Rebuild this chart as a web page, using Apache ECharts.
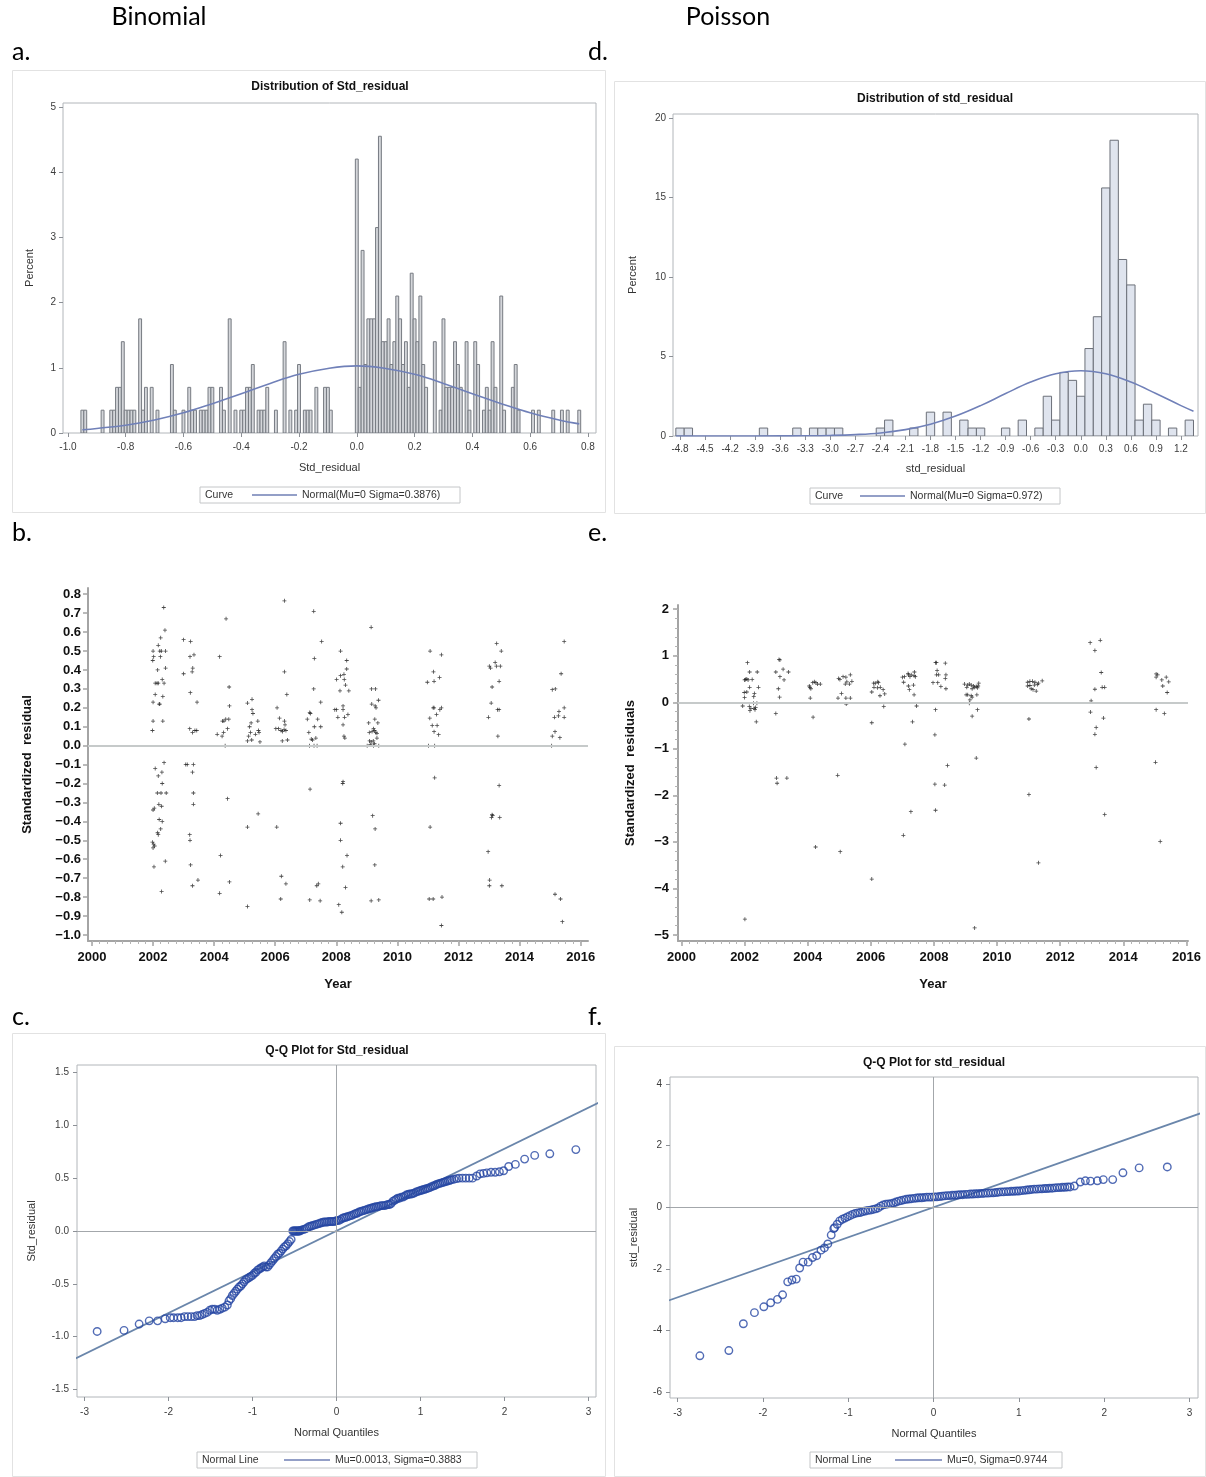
<!DOCTYPE html>
<html>
<head>
<meta charset="utf-8">
<title>Residual diagnostics: Binomial vs Poisson</title>
<script src="https://cdn.jsdelivr.net/npm/echarts@6/dist/echarts.min.js"></script>
<style>
html, body { margin: 0; padding: 0; background: #fff; }
#chart { width: 1206px; height: 1477px; }
</style>
</head>
<body>
<div id="chart"></div>
<script>
// ---------- data ----------

// a. Binomial histogram: bin centre (width 0.01) and percent
const binomBins = [-0.95, -0.94, -0.88, -0.85, -0.84, -0.83, -0.82, -0.81, -0.80, -0.79, -0.78, -0.77, -0.75, -0.74, -0.73, -0.71, -0.69,
  -0.64, -0.63, -0.60, -0.58, -0.57, -0.56, -0.54, -0.53, -0.52, -0.51, -0.50, -0.47, -0.46, -0.44, -0.42, -0.40, -0.39, -0.38, -0.37, -0.36,
  -0.34, -0.33, -0.32, -0.31, -0.28, -0.25, -0.23, -0.21, -0.20, -0.18, -0.17, -0.16, -0.14, -0.11, -0.10, -0.09,
  0.00, 0.01, 0.02, 0.03, 0.04, 0.05, 0.06, 0.07, 0.08, 0.09, 0.10, 0.11, 0.12, 0.13, 0.14, 0.15, 0.16, 0.17, 0.18, 0.19, 0.20,
  0.21, 0.22, 0.23, 0.24, 0.27, 0.29, 0.30, 0.31, 0.32, 0.33, 0.34, 0.35, 0.36, 0.38, 0.39, 0.41, 0.42, 0.44, 0.45, 0.46, 0.47, 0.48,
  0.50, 0.51, 0.54, 0.55, 0.56, 0.61, 0.63, 0.68, 0.71, 0.73, 0.77];
const binomPct = [0.35, 0.35, 0.35, 0.35, 0.35, 0.7, 0.7, 1.4, 0.35, 0.35, 0.35, 0.35, 1.75, 0.35, 0.7, 0.7, 0.35,
  1.05, 0.35, 0.35, 0.7, 0.35, 0.35, 0.35, 0.35, 0.35, 0.7, 0.7, 0.7, 0.35, 1.75, 0.35, 0.35, 0.35, 0.7, 0.7, 1.05,
  0.35, 0.35, 0.35, 0.7, 0.35, 1.4, 0.35, 0.35, 1.05, 0.35, 0.35, 0.35, 0.7, 0.7, 0.7, 0.35,
  4.2, 0.7, 2.8, 1.05, 1.75, 1.75, 1.75, 3.15, 4.55, 1.4, 1.4, 1.75, 1.05, 1.4, 2.1, 1.75, 1.05, 1.4, 0.7, 2.45, 1.75,
  1.4, 2.1, 1.05, 0.7, 1.4, 0.35, 1.75, 0.7, 0.7, 0.7, 1.4, 1.05, 0.7, 1.4, 0.35, 1.4, 1.05, 0.35, 0.7, 0.35, 1.4, 0.7,
  2.1, 0.35, 0.7, 1.05, 0.35, 0.35, 0.35, 0.35, 0.35, 0.35, 0.35];
// fitted normal curve (Mu=0 Sigma=0.3876)
const binomCurveX = [-0.95, -0.9, -0.8, -0.7, -0.6, -0.5, -0.4, -0.3, -0.2, -0.1, 0.0, 0.1, 0.2, 0.3, 0.4, 0.5, 0.6, 0.7, 0.77];
const binomCurveY = [0.05, 0.07, 0.12, 0.20, 0.31, 0.45, 0.60, 0.76, 0.90, 0.99, 1.03, 0.99, 0.90, 0.76, 0.60, 0.45, 0.31, 0.20, 0.14];

// d. Poisson histogram: bin centre (width 0.1) and percent
const poisBins = [-4.8, -4.7, -3.8, -3.4, -3.2, -3.1, -3.0, -2.9, -2.4, -2.3, -2.0, -1.8, -1.6, -1.4, -1.3, -1.2, -0.9, -0.7, -0.5,
  -0.4, -0.3, -0.2, -0.1, 0.0, 0.1, 0.2, 0.3, 0.4, 0.5, 0.6, 0.7, 0.8, 0.9, 1.1, 1.3];
const poisPct = [0.5, 0.5, 0.5, 0.5, 0.5, 0.5, 0.5, 0.5, 0.5, 1.0, 0.5, 1.5, 1.5, 1.0, 0.5, 0.5, 0.5, 1.0, 0.5,
  2.5, 1.0, 4.0, 3.5, 2.5, 5.5, 7.5, 15.6, 18.6, 11.1, 9.5, 1.0, 2.0, 1.0, 0.5, 1.0];
const poisCurveX = [-4.85, -4.2, -3.6, -3.3, -3.0, -2.7, -2.4, -2.1, -1.8, -1.5, -1.2, -0.9, -0.6, -0.3, 0.0, 0.3, 0.6, 0.9, 1.2, 1.35];
const poisCurveY = [0.0, 0.001, 0.005, 0.013, 0.035, 0.087, 0.19, 0.40, 0.74, 1.25, 1.91, 2.67, 3.39, 3.91, 4.10, 3.91, 3.39, 2.67, 1.91, 1.56];

// b. Binomial standardized residual by year [year, residual]
const binomResid = [
  [2002.35, 0.73], [2002.39, 0.61], [2002.25, 0.57], [2002.17, 0.53], [2002.00, 0.50], [2002.02, 0.47], [2001.99, 0.45], [2002.22, 0.50],
  [2002.27, 0.50], [2002.41, 0.50], [2002.24, 0.47], [2002.15, 0.40], [2002.41, 0.41], [2002.30, 0.35], [2002.07, 0.33], [2002.13, 0.33],
  [2002.17, 0.33], [2002.36, 0.33], [2002.07, 0.27], [2002.32, 0.26], [2002.00, 0.23], [2002.20, 0.22], [2002.22, 0.22], [2002.00, 0.13],
  [2002.32, 0.13], [2001.98, 0.08], [2002.36, -0.09], [2002.07, -0.12], [2002.29, -0.14], [2002.17, -0.16], [2002.30, -0.20], [2002.14, -0.25],
  [2002.26, -0.25], [2002.43, -0.25], [2002.00, -0.34], [2002.04, -0.33], [2002.19, -0.31], [2002.28, -0.32], [2002.20, -0.39], [2002.30, -0.40],
  [2002.25, -0.44], [2002.15, -0.46], [2002.17, -0.47], [2001.98, -0.51], [2002.02, -0.52], [2002.05, -0.53], [2002.00, -0.54], [2002.03, -0.64],
  [2002.40, -0.61], [2002.28, -0.77],
  [2003.00, 0.56], [2003.23, 0.55], [2003.21, 0.47], [2003.34, 0.48], [2003.30, 0.41], [2003.28, 0.39], [2003.00, 0.38], [2003.22, 0.28],
  [2003.44, 0.23], [2003.20, 0.09], [2003.29, 0.07], [2003.37, 0.08], [2003.43, 0.08], [2003.07, -0.10], [2003.12, -0.10], [2003.32, -0.10],
  [2003.29, -0.14], [2003.32, -0.25], [2003.32, -0.31], [2003.20, -0.47], [2003.21, -0.50], [2003.23, -0.63], [2003.29, -0.74], [2003.47, -0.71],
  [2004.18, 0.47], [2004.39, 0.67], [2004.49, 0.31], [2004.50, 0.21], [2004.27, 0.13], [2004.32, 0.13], [2004.38, 0.14], [2004.48, 0.14],
  [2004.44, 0.09], [2004.10, 0.06], [2004.26, 0.05], [2004.31, 0.07], [2004.36, 0.00], [2004.44, -0.28], [2004.21, -0.58], [2004.50, -0.72],
  [2004.18, -0.78],
  [2005.09, 0.225], [2005.24, 0.245], [2005.24, 0.19], [2005.27, 0.17], [2005.21, 0.12], [2005.43, 0.13], [2005.16, 0.10], [2005.19, 0.07],
  [2005.13, 0.05], [2005.35, 0.06], [2005.45, 0.08], [2005.47, 0.07], [2005.09, 0.025], [2005.23, 0.03], [2005.50, 0.02], [2005.44, -0.36],
  [2005.09, -0.43], [2005.09, -0.85],
  [2006.30, 0.765], [2006.30, 0.39], [2006.38, 0.27], [2006.06, 0.20], [2006.14, 0.145], [2006.30, 0.13], [2006.32, 0.11], [2006.11, 0.09],
  [2006.19, 0.08], [2006.24, 0.075], [2006.29, 0.085], [2006.35, 0.08], [2006.02, 0.09], [2006.23, 0.025], [2006.40, 0.03], [2006.05, -0.43],
  [2006.20, -0.69], [2006.35, -0.73], [2006.18, -0.81],
  [2007.26, 0.71], [2007.28, 0.46], [2007.52, 0.55], [2007.26, 0.30], [2007.49, 0.23], [2007.13, 0.175], [2007.15, 0.17], [2007.05, 0.14],
  [2007.28, 0.10], [2007.39, 0.14], [2007.49, 0.10], [2007.10, 0.07], [2007.18, 0.035], [2007.22, 0.03], [2007.33, 0.04], [2007.12, 0.0],
  [2007.27, 0.0], [2007.37, 0.0], [2007.14, -0.23], [2007.36, -0.74], [2007.41, -0.73], [2007.13, -0.815], [2007.47, -0.82],
  [2008.14, 0.50], [2008.34, 0.45], [2008.34, 0.405], [2008.14, 0.37], [2008.25, 0.377], [2008.01, 0.35], [2008.26, 0.35], [2008.30, 0.32],
  [2008.12, 0.29], [2008.41, 0.29], [2007.95, 0.19], [2008.01, 0.19], [2008.22, 0.21], [2008.22, 0.19], [2008.38, 0.165], [2008.05, 0.15],
  [2008.27, 0.15], [2008.22, 0.11], [2008.25, 0.05], [2008.28, 0.04], [2008.22, -0.19], [2008.21, -0.20], [2008.14, -0.41], [2008.14, -0.50],
  [2008.35, -0.58], [2008.21, -0.64], [2008.30, -0.75], [2008.08, -0.84], [2008.18, -0.88],
  [2009.14, 0.625], [2009.15, 0.30], [2009.28, 0.30], [2009.38, 0.24], [2009.16, 0.22], [2009.27, 0.21], [2009.30, 0.20], [2009.26, 0.14],
  [2009.06, 0.12], [2009.36, 0.12], [2009.22, 0.09], [2009.08, 0.07], [2009.17, 0.075], [2009.25, 0.08], [2009.29, 0.07], [2009.33, 0.065],
  [2009.33, 0.04], [2009.09, 0.025], [2009.14, 0.02], [2009.21, 0.025], [2009.25, 0.01], [2009.11, 0.005], [2009.01, 0.0], [2009.22, 0.0],
  [2009.39, 0.0], [2009.19, -0.37], [2009.27, -0.44], [2009.26, -0.63], [2009.14, -0.82], [2009.39, -0.815],
  [2011.07, 0.50], [2011.44, 0.48], [2011.18, 0.39], [2011.38, 0.36], [2010.98, 0.335], [2011.20, 0.34], [2011.17, 0.20], [2011.20, 0.20],
  [2011.39, 0.19], [2011.44, 0.20], [2011.28, 0.165], [2011.06, 0.145], [2011.14, 0.107], [2011.30, 0.107], [2011.20, 0.074], [2011.35, 0.058],
  [2011.02, 0.0], [2011.22, 0.0], [2011.22, -0.17], [2011.07, -0.43], [2011.04, -0.81], [2011.17, -0.81], [2011.46, -0.80], [2011.44, -0.95],
  [2013.25, 0.54], [2013.40, 0.50], [2013.20, 0.44], [2013.01, 0.42], [2013.05, 0.41], [2013.24, 0.42], [2013.37, 0.42], [2013.33, 0.34],
  [2013.10, 0.31], [2013.07, 0.225], [2013.28, 0.19], [2013.33, 0.19], [2012.98, 0.15], [2013.29, 0.05], [2013.33, -0.21], [2013.10, -0.365],
  [2013.12, -0.37], [2013.08, -0.38], [2013.35, -0.38], [2012.97, -0.56], [2013.02, -0.71], [2013.01, -0.74], [2013.42, -0.74],
  [2015.46, 0.55], [2015.36, 0.38], [2015.07, 0.296], [2015.17, 0.30], [2015.46, 0.20], [2015.29, 0.18], [2015.14, 0.15], [2015.27, 0.157],
  [2015.46, 0.15], [2015.16, 0.074], [2015.07, 0.05], [2015.32, 0.042], [2015.05, 0.0], [2015.16, -0.785], [2015.34, -0.81], [2015.40, -0.93]
];

// e. Poisson standardized residuals by year [year, residual]
const poisResid = [
  [2002.09, 0.85], [2002.00, 0.48], [2002.03, 0.49], [2002.07, 0.50], [2002.11, 0.48], [2002.24, 0.49], [2002.16, 0.65], [2002.40, 0.65],
  [2002.16, 0.32], [2002.44, 0.32], [2001.99, 0.21], [2002.07, 0.22], [2002.31, 0.19], [2002.00, 0.10], [2002.29, 0.12], [2001.94, -0.08],
  [2002.15, -0.09], [2002.20, -0.13], [2002.30, -0.13], [2002.35, -0.11], [2002.17, -0.18], [2002.33, -0.16], [2002.28, -0.02], [2002.39, -0.02],
  [2002.37, -0.42], [2002.01, -4.66],
  [2003.09, 0.92], [2003.12, 0.91], [2003.22, 0.71], [2002.99, 0.65], [2003.39, 0.65], [2003.12, 0.55], [2003.25, 0.48], [2003.07, 0.29],
  [2003.11, 0.11], [2002.99, -0.24], [2003.01, -1.63], [2003.34, -1.63], [2003.03, -1.74],
  [2004.05, 0.35], [2004.07, 0.32], [2004.10, 0.29], [2004.16, 0.42], [2004.21, 0.44], [2004.26, 0.42], [2004.31, 0.39], [2004.40, 0.39],
  [2004.08, 0.09], [2004.17, -0.32], [2004.25, -3.11],
  [2004.98, 0.51], [2005.02, 0.49], [2005.12, 0.55], [2005.21, 0.54], [2005.35, 0.59], [2005.24, 0.44], [2005.40, 0.45], [2005.19, 0.39],
  [2005.32, 0.39], [2005.07, 0.19], [2004.96, 0.09], [2005.21, 0.09], [2005.35, 0.09], [2005.22, -0.04], [2004.95, -1.57], [2005.03, -3.21],
  [2006.09, 0.41], [2006.14, 0.41], [2006.22, 0.44], [2006.24, 0.42], [2006.10, 0.32], [2006.21, 0.31], [2006.30, 0.32], [2006.39, 0.27],
  [2006.03, 0.22], [2006.44, 0.18], [2006.29, 0.14], [2006.41, -0.09], [2006.03, -0.44], [2006.03, -3.80],
  [2007.00, 0.54], [2007.07, 0.55], [2007.19, 0.59], [2007.24, 0.55], [2007.28, 0.59], [2007.37, 0.57], [2007.41, 0.55], [2007.18, 0.62],
  [2007.38, 0.65], [2007.04, 0.43], [2007.19, 0.35], [2007.22, 0.27], [2007.35, 0.37], [2007.37, 0.16], [2007.45, -0.08], [2007.32, -0.42],
  [2007.08, -0.90], [2007.27, -2.35], [2007.03, -2.86],
  [2008.05, 0.85], [2008.08, 0.85], [2008.36, 0.84], [2008.10, 0.68], [2008.08, 0.59], [2008.15, 0.59], [2008.38, 0.59], [2007.97, 0.42],
  [2008.12, 0.42], [2008.22, 0.34], [2008.36, 0.51], [2008.38, 0.29], [2008.05, -0.16], [2008.03, -0.70], [2008.43, -1.36], [2008.03, -1.76],
  [2008.34, -1.78], [2008.05, -2.32],
  [2008.97, 0.39], [2009.07, 0.37], [2009.12, 0.39], [2009.18, 0.37], [2009.25, 0.35], [2009.34, 0.34], [2009.40, 0.35], [2009.42, 0.41],
  [2009.04, 0.32], [2009.21, 0.29], [2009.29, 0.32], [2009.38, 0.31], [2009.07, 0.16], [2009.18, 0.14], [2009.21, 0.11], [2009.02, 0.16],
  [2009.14, 0.05], [2009.12, -0.02], [2009.36, 0.16], [2009.38, -0.16], [2009.21, -0.30], [2009.34, -1.20], [2009.29, -4.85],
  [2010.97, 0.43], [2011.04, 0.45], [2011.12, 0.45], [2011.20, 0.43], [2011.31, 0.41], [2011.43, 0.46], [2010.97, 0.35], [2011.04, 0.36],
  [2011.18, 0.37], [2011.28, 0.38], [2011.08, 0.29], [2011.14, 0.27], [2011.24, 0.24], [2011.01, -0.36], [2011.01, -1.98], [2011.31, -3.45],
  [2012.95, 1.28], [2013.27, 1.33], [2013.10, 1.11], [2013.30, 0.64], [2013.10, 0.28], [2013.33, 0.32], [2013.41, 0.32], [2012.98, 0.03],
  [2012.96, -0.21], [2013.37, -0.34], [2013.14, -0.54], [2013.10, -0.69], [2013.14, -1.40], [2013.41, -2.41],
  [2015.04, 0.61], [2015.09, 0.59], [2015.04, 0.54], [2015.22, 0.48], [2015.36, 0.54], [2015.44, 0.44], [2015.25, 0.35], [2015.39, 0.21],
  [2015.04, -0.16], [2015.30, -0.24], [2015.02, -1.29], [2015.17, -2.99]
];

// c. Binomial Q-Q: [normal quantile, Std_residual]
const binomQQ = [
  [-2.85, -0.95], [-2.53, -0.94], [-2.35, -0.88], [-2.23, -0.85], [-2.13, -0.85], [-2.04, -0.83],
  [-1.98, -0.82], [-1.94, -0.82], [-1.89, -0.82], [-1.85, -0.82], [-1.81, -0.81], [-1.77, -0.81], [-1.73, -0.81], [-1.69, -0.81],
  [-1.66, -0.80], [-1.63, -0.80], [-1.60, -0.79], [-1.57, -0.78], [-1.54, -0.77], [-1.51, -0.75], [-1.48, -0.74], [-1.45, -0.74],
  [-1.42, -0.75], [-1.39, -0.74], [-1.36, -0.73], [-1.33, -0.72], [-1.30, -0.70], [-1.28, -0.66], [-1.26, -0.64], [-1.24, -0.61],
  [-1.22, -0.59], [-1.20, -0.57], [-1.18, -0.55], [-1.16, -0.53], [-1.14, -0.52], [-1.12, -0.50], [-1.10, -0.48], [-1.08, -0.46],
  [-1.06, -0.45], [-1.04, -0.44], [-1.02, -0.43], [-1.00, -0.42], [-0.98, -0.40], [-0.96, -0.39], [-0.94, -0.37], [-0.92, -0.36],
  [-0.90, -0.35], [-0.88, -0.34], [-0.86, -0.33], [-0.84, -0.34], [-0.82, -0.34], [-0.80, -0.32], [-0.78, -0.30], [-0.76, -0.28],
  [-0.74, -0.26], [-0.72, -0.24], [-0.70, -0.22], [-0.68, -0.21], [-0.66, -0.19], [-0.64, -0.17], [-0.62, -0.15], [-0.60, -0.14],
  [-0.58, -0.12], [-0.56, -0.10], [-0.54, -0.08],
  [-0.52, 0.0], [-0.51, 0.0], [-0.50, 0.0], [-0.49, 0.0], [-0.48, 0.0], [-0.47, 0.0], [-0.46, 0.0], [-0.45, 0.0], [-0.44, 0.0],
  [-0.43, 0.005], [-0.41, 0.01], [-0.39, 0.015], [-0.37, 0.02], [-0.35, 0.03], [-0.33, 0.04], [-0.31, 0.045], [-0.29, 0.05],
  [-0.27, 0.055], [-0.25, 0.06], [-0.23, 0.065], [-0.21, 0.07], [-0.19, 0.075], [-0.17, 0.08], [-0.15, 0.085], [-0.13, 0.085],
  [-0.11, 0.085], [-0.09, 0.09], [-0.07, 0.09], [-0.05, 0.09], [-0.03, 0.09], [-0.01, 0.095], [0.01, 0.10], [0.03, 0.10],
  [0.05, 0.11], [0.07, 0.12], [0.09, 0.125], [0.11, 0.13], [0.13, 0.135], [0.15, 0.14], [0.17, 0.145], [0.19, 0.15],
  [0.21, 0.16], [0.23, 0.165], [0.25, 0.17], [0.27, 0.18], [0.29, 0.185], [0.31, 0.19], [0.33, 0.195], [0.35, 0.20],
  [0.37, 0.205], [0.39, 0.21], [0.41, 0.215], [0.43, 0.22], [0.45, 0.225], [0.47, 0.23], [0.49, 0.23], [0.51, 0.235],
  [0.53, 0.24], [0.55, 0.24], [0.57, 0.24], [0.59, 0.245], [0.61, 0.25], [0.63, 0.25], [0.65, 0.26], [0.67, 0.28],
  [0.69, 0.29], [0.71, 0.30], [0.73, 0.31], [0.75, 0.31], [0.77, 0.32], [0.79, 0.32], [0.81, 0.33], [0.83, 0.34],
  [0.85, 0.345], [0.87, 0.35], [0.89, 0.35], [0.91, 0.355], [0.93, 0.36], [0.95, 0.37], [0.97, 0.375], [0.99, 0.38],
  [1.01, 0.385], [1.03, 0.39], [1.05, 0.395], [1.07, 0.40], [1.09, 0.405], [1.11, 0.41], [1.13, 0.42], [1.15, 0.425],
  [1.17, 0.43], [1.19, 0.44], [1.21, 0.445], [1.23, 0.45], [1.25, 0.455], [1.27, 0.46], [1.29, 0.465], [1.31, 0.47],
  [1.33, 0.475], [1.35, 0.48], [1.37, 0.485], [1.40, 0.49], [1.43, 0.495], [1.46, 0.50], [1.50, 0.50], [1.54, 0.50],
  [1.58, 0.50], [1.62, 0.50], [1.67, 0.52], [1.71, 0.54], [1.75, 0.545], [1.79, 0.55], [1.84, 0.555], [1.89, 0.555],
  [1.94, 0.56], [1.99, 0.57], [2.05, 0.61], [2.13, 0.63], [2.24, 0.68], [2.36, 0.715], [2.54, 0.73], [2.85, 0.77]
];
// normal reference line (Mu=0.0013, Sigma=0.3883), end points read at the frame edges
const binomLine = [[-3.2, -1.241], [3.2, 1.244]];

// f. Poisson Q-Q: [normal quantile, std_residual]
const poisQQ = [
  [-2.74, -4.82], [-2.40, -4.65], [-2.23, -3.78], [-2.10, -3.42], [-1.99, -3.23], [-1.91, -3.10], [-1.83, -2.99], [-1.77, -2.84],
  [-1.71, -2.42], [-1.66, -2.36], [-1.61, -2.33], [-1.57, -1.97], [-1.53, -1.78], [-1.47, -1.78], [-1.42, -1.63], [-1.37, -1.57],
  [-1.32, -1.39], [-1.28, -1.32], [-1.24, -1.19], [-1.20, -0.90], [-1.17, -0.69], [-1.16, -0.66], [-1.13, -0.55], [-1.10, -0.44],
  [-1.07, -0.39], [-1.04, -0.35], [-1.01, -0.31], [-0.98, -0.27], [-0.95, -0.23], [-0.92, -0.20], [-0.89, -0.18], [-0.86, -0.17],
  [-0.83, -0.14], [-0.80, -0.12], [-0.77, -0.10], [-0.74, -0.09], [-0.71, -0.07], [-0.68, -0.05], [-0.65, -0.02], [-0.62, 0.04],
  [-0.59, 0.08], [-0.56, 0.10], [-0.53, 0.11], [-0.50, 0.12], [-0.47, 0.14], [-0.44, 0.17], [-0.41, 0.20], [-0.38, 0.22],
  [-0.35, 0.24], [-0.32, 0.26], [-0.29, 0.27], [-0.26, 0.28], [-0.23, 0.29], [-0.20, 0.30], [-0.17, 0.31], [-0.14, 0.31],
  [-0.11, 0.32], [-0.08, 0.33], [-0.05, 0.33], [-0.02, 0.33], [0.01, 0.34], [0.04, 0.34], [0.07, 0.35], [0.10, 0.36],
  [0.13, 0.37], [0.16, 0.38], [0.19, 0.38], [0.22, 0.39], [0.25, 0.39], [0.28, 0.40], [0.31, 0.41], [0.34, 0.41],
  [0.37, 0.42], [0.40, 0.42], [0.43, 0.43], [0.46, 0.43], [0.49, 0.44], [0.52, 0.44], [0.55, 0.45], [0.58, 0.45],
  [0.61, 0.46], [0.64, 0.46], [0.67, 0.47], [0.70, 0.47], [0.73, 0.48], [0.76, 0.49], [0.79, 0.50], [0.82, 0.50],
  [0.85, 0.51], [0.88, 0.51], [0.91, 0.52], [0.94, 0.52], [0.97, 0.53], [1.00, 0.53], [1.03, 0.54], [1.06, 0.55],
  [1.09, 0.56], [1.12, 0.57], [1.15, 0.58], [1.18, 0.59], [1.21, 0.59], [1.24, 0.60], [1.27, 0.60], [1.30, 0.61],
  [1.33, 0.61], [1.36, 0.62], [1.39, 0.62], [1.42, 0.63], [1.45, 0.64], [1.48, 0.64], [1.51, 0.65], [1.54, 0.65],
  [1.57, 0.66], [1.60, 0.66], [1.65, 0.69], [1.72, 0.82], [1.78, 0.86], [1.84, 0.85], [1.92, 0.86], [1.99, 0.90],
  [2.10, 0.90], [2.22, 1.12], [2.41, 1.28], [2.74, 1.31]
];
// normal reference line (Mu=0, Sigma=0.9744)
const poisLine = [[-3.2, -3.118], [3.2, 3.118]];

// tick values
const binomHistTicksX = [-1.0, -0.8, -0.6, -0.4, -0.2, 0.0, 0.2, 0.4, 0.6, 0.8];
const binomHistTicksY = [0, 1, 2, 3, 4, 5];
const poisHistTicksX = [-4.8, -4.5, -4.2, -3.9, -3.6, -3.3, -3.0, -2.7, -2.4, -2.1, -1.8, -1.5, -1.2, -0.9, -0.6, -0.3, 0.0, 0.3, 0.6, 0.9, 1.2];
const poisHistTicksY = [0, 5, 10, 15, 20];
const yearTicks = [2000, 2002, 2004, 2006, 2008, 2010, 2012, 2014, 2016];
const binomResidTicks = [-1.0, -0.9, -0.8, -0.7, -0.6, -0.5, -0.4, -0.3, -0.2, -0.1, 0.0, 0.1, 0.2, 0.3, 0.4, 0.5, 0.6, 0.7, 0.8];
const poisResidTicks = [-5, -4, -3, -2, -1, 0, 1, 2];
const qqTicksX = [-3, -2, -1, 0, 1, 2, 3];
const binomQQTicksY = [-1.5, -1.0, -0.5, 0.0, 0.5, 1.0, 1.5];
const poisQQTicksY = [-6, -4, -2, 0, 2, 4];

// ---------- styling helpers ----------
const SANS = '"Liberation Sans", Arial, sans-serif';
const zip = (a, b) => a.map((v, i) => [v, b[i]]);
const quarterTicks = [];
for (let y = 2000; y <= 2016; y += 0.25) quarterTicks.push(y);
const fifthTicks = [];
for (let v = -5; v <= 2.001; v += 0.2) fifthTicks.push(Math.round(v * 10) / 10);

function sasAxis(grid, min, max, ticks, fmt, name, gap, rotate, margin) {
  return {
    type: 'value', gridIndex: grid, min: min, max: max,
    name: name, nameLocation: 'middle', nameGap: gap, nameRotate: rotate,
    nameTextStyle: { color: '#333', fontSize: 11, fontFamily: SANS },
    axisLine: { show: false, onZero: false },
    axisTick: { show: true, length: 4, customValues: ticks, lineStyle: { color: '#8c9096' } },
    axisLabel: { customValues: ticks, formatter: fmt, color: '#3c3c3c', fontSize: 10, fontFamily: SANS, margin: margin },
    splitLine: { show: false }
  };
}
function boldAxis(grid, min, max, ticks, fmt, name, gap, rotate, margin) {
  return {
    type: 'value', gridIndex: grid, min: min, max: max,
    name: name, nameLocation: 'middle', nameGap: gap, nameRotate: rotate,
    nameTextStyle: { color: '#111', fontSize: 13, fontWeight: 'bold', fontFamily: SANS },
    axisLine: { show: true, onZero: false, lineStyle: { color: '#a4a4a4', width: 2 } },
    axisTick: { show: true, length: 5, customValues: ticks, lineStyle: { color: '#a4a4a4', width: 1.5 } },
    axisLabel: { customValues: ticks, formatter: fmt, color: '#111', fontSize: 13, fontWeight: 'bold', fontFamily: SANS, margin: margin },
    splitLine: { show: false }
  };
}
function minorAxis(grid, min, max, ticks, position) {
  return {
    type: 'value', gridIndex: grid, min: min, max: max, position: position,
    axisLine: { show: false, onZero: false },
    axisTick: { show: true, length: 3, customValues: ticks, lineStyle: { color: '#b4b4b4' } },
    axisLabel: { show: false }, splitLine: { show: false }
  };
}
const f1 = v => v.toFixed(1);
const f0 = v => String(v);
const minus1 = v => (v < 0 ? '\u2212' + Math.abs(v).toFixed(1) : v.toFixed(1));
const minus0 = v => (v < 0 ? '\u2212' + Math.abs(v) : String(v));

function histItem(width, fill, stroke) {
  return function (params, api) {
    const x = api.value(0), h = api.value(1);
    const lo = api.coord([x - width / 2, 0]);
    const hi = api.coord([x + width / 2, h]);
    return {
      type: 'rect',
      shape: { x: lo[0], y: hi[1], width: hi[0] - lo[0], height: lo[1] - hi[1] },
      style: { fill: fill, stroke: stroke, lineWidth: 1 }
    };
  };
}

const crossSymbol = 'path://M2,0 H3 V2 H5 V3 H3 V5 H2 V3 H0 V2 H2 Z';
const qqItem = { color: 'rgba(0,0,0,0)', borderColor: '#2546a3', borderWidth: 1.4 };

function text(x, y, str, font, fill, align) {
  return { type: 'text', x: x, y: y, silent: true,
    style: { text: str, font: font, fill: fill || '#000', align: align || 'left', verticalAlign: 'middle' } };
}
function frameBox(x, y, w, h) {
  return { type: 'rect', silent: true, shape: { x: x, y: y, width: w, height: h },
    style: { fill: 'none', stroke: '#e2e2e2', lineWidth: 1 } };
}
function legend(x, y, w, label, lineX1, lineX2, desc) {
  const cy = y + 8;
  return [
    { type: 'rect', silent: true, shape: { x: x, y: y, width: w, height: 16 },
      style: { fill: '#fff', stroke: '#c4c6c8', lineWidth: 1 } },
    text(x + 5, cy, label, '10.5px ' + SANS, '#333'),
    { type: 'line', silent: true, shape: { x1: lineX1, y1: cy, x2: lineX2, y2: cy },
      style: { stroke: '#6f7fb4', lineWidth: 1.5 } },
    text(lineX2 + 5, cy, desc, '10.5px ' + SANS, '#333')
  ];
}

const HEAD = '25px Lato, "Open Sans", sans-serif';
const TITLE = 'bold 12px ' + SANS;

const option = {
  backgroundColor: '#fff',
  animation: false,
  grid: [
    { left: 63, top: 103, width: 533, height: 330, show: true, borderColor: '#b2b6ba', borderWidth: 1, backgroundColor: '#fff' },
    { left: 673, top: 114, width: 525, height: 322, show: true, borderColor: '#b2b6ba', borderWidth: 1, backgroundColor: '#fff' },
    { left: 88, top: 588, width: 500, height: 353 },
    { left: 678, top: 605, width: 510, height: 336 },
    { left: 77, top: 1065, width: 519, height: 332, show: true, borderColor: '#b2b6ba', borderWidth: 1, backgroundColor: '#fff' },
    { left: 670, top: 1077, width: 528, height: 321, show: true, borderColor: '#b2b6ba', borderWidth: 1, backgroundColor: '#fff' }
  ],
  xAxis: [
    sasAxis(0, -1.017, 0.828, binomHistTicksX, f1, 'Std_residual', 29, 0, 9),
    sasAxis(1, -4.884, 1.404, poisHistTicksX, f1, 'std_residual', 27, 0, 8),
    boldAxis(2, 1999.87, 2016.24, yearTicks, f0, 'Year', 37, 0, 10),
    minorAxis(2, 1999.87, 2016.24, quarterTicks, 'bottom'),
    boldAxis(3, 1999.89, 2016.05, yearTicks, f0, 'Year', 37, 0, 10),
    minorAxis(3, 1999.89, 2016.05, quarterTicks, 'bottom'),
    sasAxis(4, -3.09, 3.09, qqTicksX, f0, 'Normal Quantiles', 30, 0, 10),
    sasAxis(5, -3.09, 3.10, qqTicksX, f0, 'Normal Quantiles', 30, 0, 10)
  ],
  yAxis: [
    sasAxis(0, 0, 5.06, binomHistTicksY, f0, 'Percent', 28, 90, 7),
    sasAxis(1, 0, 20.25, poisHistTicksY, f0, 'Percent', 35, 90, 7),
    boldAxis(2, -1.032, 0.833, binomResidTicks, minus1, 'Standardized  residual', 54, 90, 7),
    boldAxis(3, -5.13, 2.09, poisResidTicks, minus0, 'Standardized  residuals', 41, 90, 9),
    minorAxis(3, -5.13, 2.09, fifthTicks, 'left'),
    sasAxis(4, -1.57, 1.57, binomQQTicksY, f1, 'Std_residual', 40, 90, 8),
    sasAxis(5, -6.19, 4.23, poisQQTicksY, f0, 'std_residual', 31, 90, 8)
  ],
  series: [
    // a.
    { type: 'custom', name: 'binomHist', xAxisIndex: 0, yAxisIndex: 0, clip: true,
      renderItem: histItem(0.01, '#d4d6da', '#777b82'), encode: { x: 0, y: 1 },
      data: zip(binomBins, binomPct) },
    { type: 'line', name: 'binomCurve', xAxisIndex: 0, yAxisIndex: 0, smooth: 0.4, symbol: 'none',
      lineStyle: { color: '#7080b8', width: 1.6 }, data: zip(binomCurveX, binomCurveY), z: 4 },
    // d.
    { type: 'custom', name: 'poisHist', xAxisIndex: 1, yAxisIndex: 1, clip: true,
      renderItem: histItem(0.1, '#dfe4ee', '#6c7079'), encode: { x: 0, y: 1 },
      data: zip(poisBins, poisPct) },
    { type: 'line', name: 'poisCurve', xAxisIndex: 1, yAxisIndex: 1, smooth: 0.4, symbol: 'none',
      lineStyle: { color: '#7080b8', width: 1.6 }, data: zip(poisCurveX, poisCurveY), z: 4 },
    // b.
    { type: 'line', name: 'zeroB', xAxisIndex: 2, yAxisIndex: 2, data: [], z: 1,
      markLine: { silent: true, symbol: 'none', label: { show: false },
        lineStyle: { color: '#c6caca', width: 2, type: 'solid' }, data: [{ yAxis: 0 }] } },
    { type: 'scatter', name: 'binomResid', xAxisIndex: 2, yAxisIndex: 2, symbol: crossSymbol, symbolSize: 4,
      itemStyle: { color: '#1a1a1a' }, data: binomResid, z: 3 },
    // e.
    { type: 'line', name: 'zeroE', xAxisIndex: 4, yAxisIndex: 3, data: [], z: 1,
      markLine: { silent: true, symbol: 'none', label: { show: false },
        lineStyle: { color: '#c6caca', width: 2, type: 'solid' }, data: [{ yAxis: 0 }] } },
    { type: 'scatter', name: 'poisResid', xAxisIndex: 4, yAxisIndex: 3, symbol: crossSymbol, symbolSize: 4,
      itemStyle: { color: '#1a1a1a' }, data: poisResid, z: 3 },
    // c.
    { type: 'line', name: 'binomNormal', xAxisIndex: 6, yAxisIndex: 5, symbol: 'none', data: binomLine, z: 2,
      lineStyle: { color: '#6a86ab', width: 1.8 },
      markLine: { silent: true, symbol: 'none', label: { show: false },
        lineStyle: { color: '#a3a7ab', width: 1, type: 'solid' }, data: [{ xAxis: 0 }, { yAxis: 0 }] } },
    { type: 'scatter', name: 'binomQQ', xAxisIndex: 6, yAxisIndex: 5, symbol: 'circle', symbolSize: 7.5,
      itemStyle: qqItem, data: binomQQ, z: 3 },
    // f.
    { type: 'line', name: 'poisNormal', xAxisIndex: 7, yAxisIndex: 6, symbol: 'none', data: poisLine, z: 2,
      lineStyle: { color: '#6a86ab', width: 1.8 },
      markLine: { silent: true, symbol: 'none', label: { show: false },
        lineStyle: { color: '#a3a7ab', width: 1, type: 'solid' }, data: [{ xAxis: 0 }, { yAxis: 0 }] } },
    { type: 'scatter', name: 'poisQQ', xAxisIndex: 7, yAxisIndex: 6, symbol: 'circle', symbolSize: 7.5,
      itemStyle: qqItem, data: poisQQ, z: 3 }
  ],
  graphic: [].concat(
    [
      frameBox(12.5, 70.5, 593, 442),
      frameBox(614.5, 81.5, 591, 432),
      frameBox(12.5, 1033.5, 593, 443),
      frameBox(614.5, 1046.5, 591, 430),
      text(159, 17, 'Binomial', HEAD, '#000', 'center'),
      text(728, 17, 'Poisson', HEAD, '#000', 'center'),
      text(12, 52, 'a.', HEAD), text(588, 52, 'd.', HEAD),
      text(12, 533, 'b.', HEAD), text(588, 533, 'e.', HEAD),
      text(12, 1017, 'c.', HEAD), text(588, 1017, 'f.', HEAD),
      text(330, 87, 'Distribution of Std_residual', TITLE, '#111', 'center'),
      text(935, 99, 'Distribution of std_residual', TITLE, '#111', 'center'),
      text(337, 1051, 'Q-Q Plot for Std_residual', TITLE, '#111', 'center'),
      text(934, 1063, 'Q-Q Plot for std_residual', TITLE, '#111', 'center')
    ],
    legend(200, 487, 260, 'Curve', 252, 297, 'Normal(Mu=0 Sigma=0.3876)'),
    legend(810, 488, 250, 'Curve', 860, 905, 'Normal(Mu=0 Sigma=0.972)'),
    legend(197, 1452, 280, 'Normal Line', 284, 330, 'Mu=0.0013, Sigma=0.3883'),
    legend(810, 1452, 252, 'Normal Line', 895, 942, 'Mu=0, Sigma=0.9744')
  )
};

const chart = echarts.init(document.getElementById('chart'));
chart.setOption(option);
</script>
</body>
</html>
